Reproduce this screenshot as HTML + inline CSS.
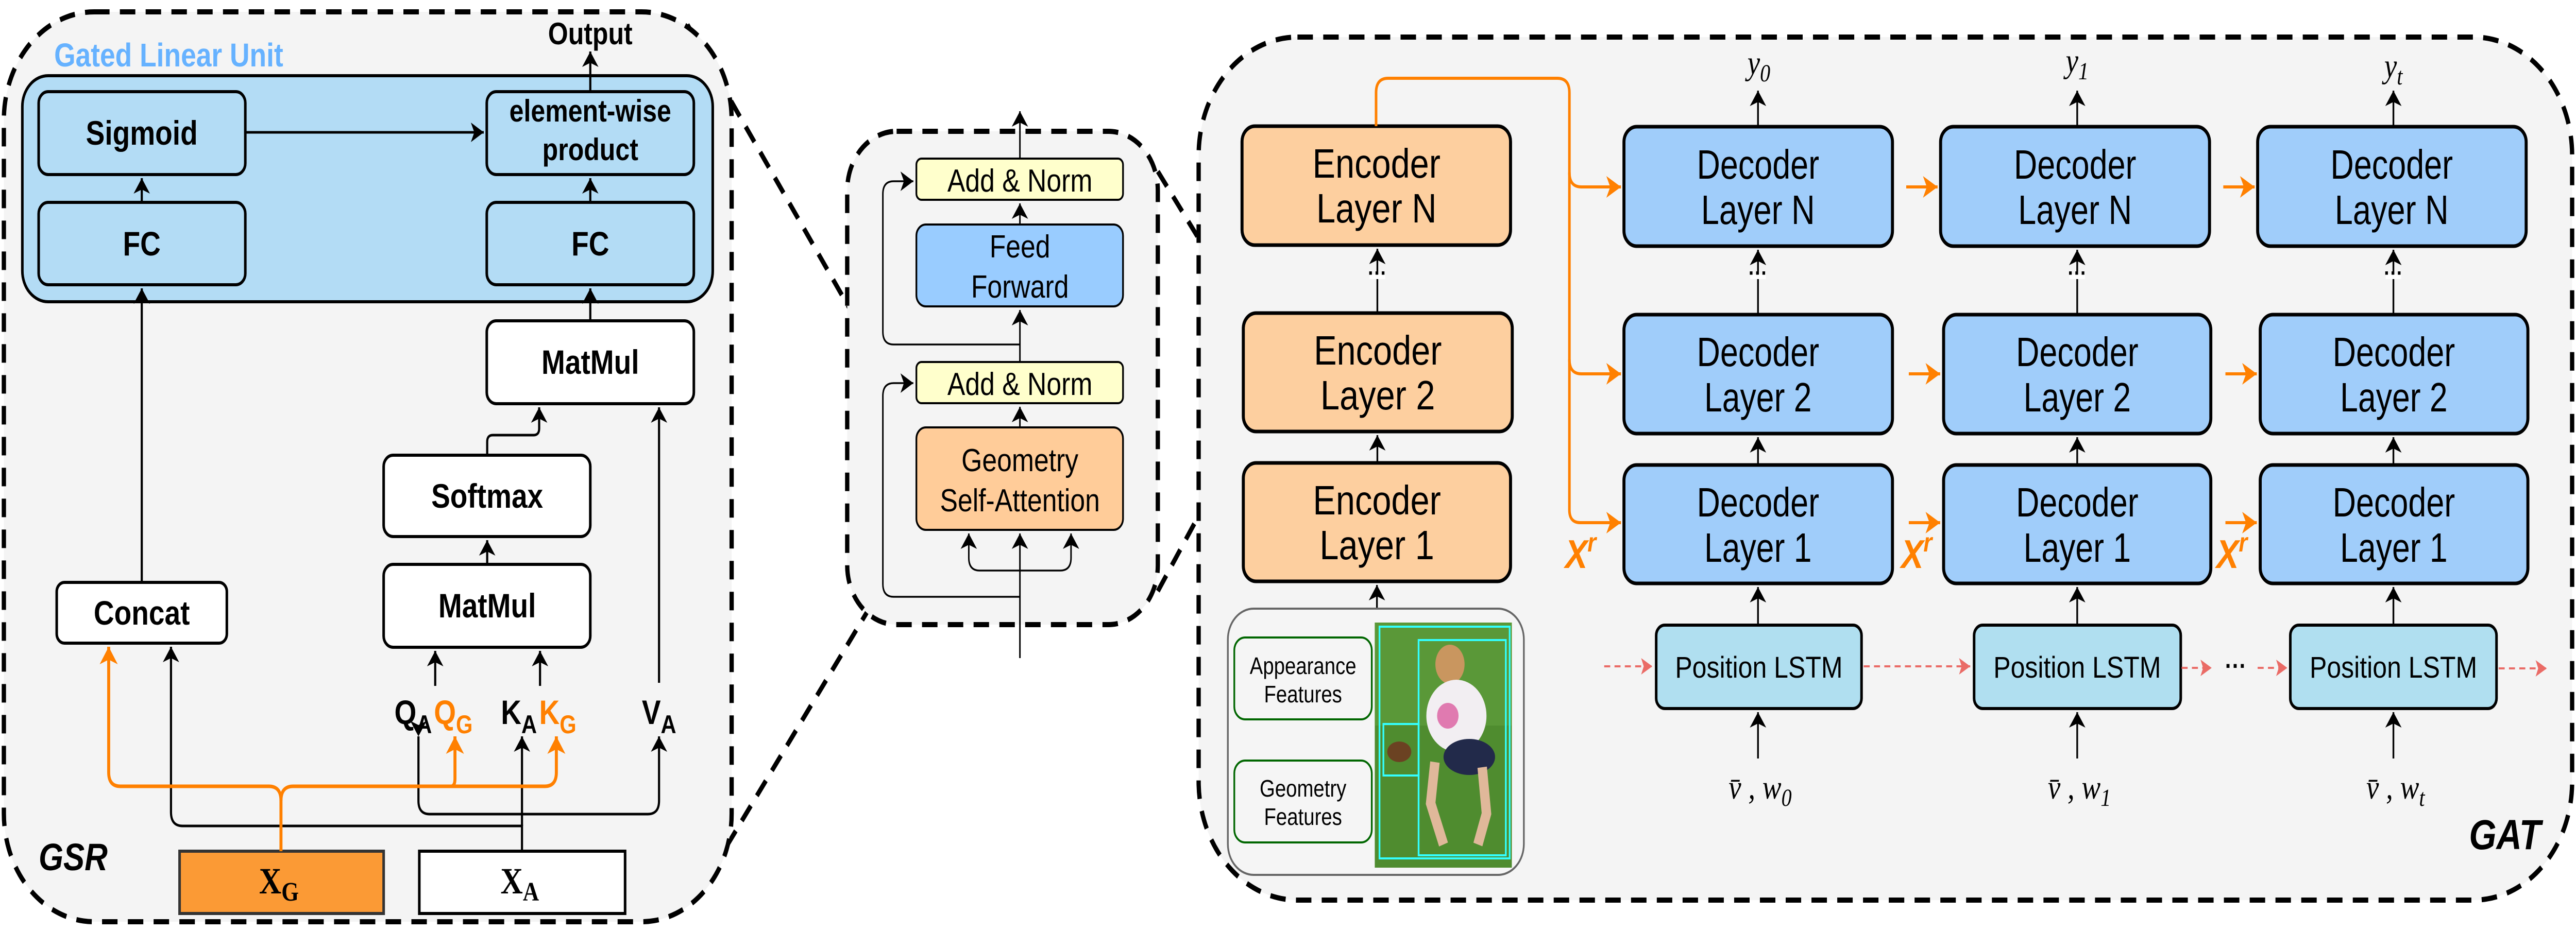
<!DOCTYPE html>
<html><head><meta charset="utf-8"><style>html,body{margin:0;padding:0;background:#fff;width:100%;height:100%;overflow:hidden}svg{display:block;width:100vw;height:100vh;position:absolute;left:0;top:0}</style></head>
<body>
<svg xmlns="http://www.w3.org/2000/svg" viewBox="0 0 5996 1808" preserveAspectRatio="none" font-family="'Liberation Sans', sans-serif">
<defs>
<marker id="ab" markerWidth="10" markerHeight="10" refX="8" refY="5" orient="auto" markerUnits="userSpaceOnUse" viewBox="0 0 10 10" style="overflow:visible"><path d="M-22,-14 L8,5 L-22,24 L-14,5 Z" fill="#000"/></marker>
<marker id="ao" markerWidth="10" markerHeight="10" refX="8" refY="5" orient="auto" markerUnits="userSpaceOnUse" viewBox="0 0 10 10" style="overflow:visible"><path d="M-26,-16 L8,5 L-26,26 L-17,5 Z" fill="#ff8000"/></marker>
<marker id="ar" markerWidth="10" markerHeight="10" refX="8" refY="5" orient="auto" markerUnits="userSpaceOnUse" viewBox="0 0 10 10" style="overflow:visible"><path d="M-18,-11 L8,5 L-18,21 L-12,5 Z" fill="#ea6b66"/></marker>
</defs>
<rect width="5996" height="1808" fill="#fff"/>

<g stroke="#000" stroke-width="10" stroke-dasharray="36,24" fill="none">
<line x1="1600" y1="48" x2="2133" y2="826"/>
<line x1="2133" y1="1029" x2="1690" y2="1645"/>
<line x1="2695" y1="333" x2="2896" y2="608"/>
<line x1="2695" y1="1148" x2="2896" y2="838"/>
</g>

<rect x="9" y="23" width="1694" height="1767" rx="210" fill="#f4f4f4" stroke="#000" stroke-width="10" stroke-dasharray="36,24"/>
<text x="126" y="129" font-size="64" font-weight="bold" fill="#66b2ff">Gated Linear Unit</text>
<rect x="52" y="147" width="1607" height="439" rx="60" fill="#b3dcf5" stroke="#000" stroke-width="6"/>
<g stroke="#000" stroke-width="6">
<rect x="90" y="178" width="481" height="161" rx="22" fill="#b3dcf5"/>
<rect x="90" y="393" width="481" height="160" rx="22" fill="#b3dcf5"/>
<rect x="1133" y="178" width="482" height="161" rx="22" fill="#b3dcf5"/>
<rect x="1133" y="393" width="482" height="160" rx="22" fill="#b3dcf5"/>
<rect x="1133" y="623" width="482" height="161" rx="22" fill="#fff"/>
<rect x="893" y="884" width="481" height="158" rx="22" fill="#fff"/>
<rect x="893" y="1096" width="481" height="161" rx="22" fill="#fff"/>
<rect x="132" y="1131" width="396" height="118" rx="18" fill="#fff"/>
<rect x="418" y="1653" width="475" height="121" fill="#fb9a35" stroke="#333"/>
<rect x="976" y="1653" width="479" height="121" fill="#fff"/>
</g>
<g font-size="66" font-weight="bold" text-anchor="middle" fill="#000">
<text x="330" y="281">Sigmoid</text>
<text x="330" y="496">FC</text>
<text x="1374" y="236" font-size="60">element-wise</text>
<text x="1374" y="311" font-size="60">product</text>
<text x="1374" y="496">FC</text>
<text x="1374" y="726">MatMul</text>
<text x="1134" y="986">Softmax</text>
<text x="1134" y="1199">MatMul</text>
<text x="330" y="1213">Concat</text>
<text x="1374" y="86" font-size="60">Output</text>
</g>
<g font-size="66" font-weight="bold" fill="#000">
<text x="918" y="1406">Q<tspan font-size="50" dy="18">A</tspan></text>
<text x="1010" y="1406" fill="#ff8000">Q<tspan font-size="50" dy="18">G</tspan></text>
<text x="1166" y="1406">K<tspan font-size="50" dy="18">A</tspan></text>
<text x="1255" y="1406" fill="#ff8000">K<tspan font-size="50" dy="18">G</tspan></text>
<text x="1494" y="1406">V<tspan font-size="50" dy="18">A</tspan></text>
</g>
<g font-family="'Liberation Serif', serif" font-weight="bold" font-size="72" fill="#000">
<text x="603" y="1735">X<tspan font-size="52" dy="14">G</tspan></text>
<text x="1165" y="1735">X<tspan font-size="52" dy="14">A</tspan></text>
</g>
<text x="90" y="1690" font-size="74" font-weight="bold" font-style="italic">GSR</text>

<g stroke="#000" stroke-width="5" fill="none">
<line x1="330" y1="1131" x2="330" y2="560" marker-end="url(#ab)"/>
<line x1="330" y1="393" x2="330" y2="346" marker-end="url(#ab)"/>
<line x1="571" y1="257" x2="1126" y2="257" marker-end="url(#ab)"/>
<line x1="1374" y1="178" x2="1374" y2="100" marker-end="url(#ab)"/>
<line x1="1374" y1="393" x2="1374" y2="346" marker-end="url(#ab)"/>
<line x1="1374" y1="623" x2="1374" y2="560" marker-end="url(#ab)"/>
<path d="M1134,884 V858 q0,-13 13,-13 H1242 q13,0 13,-13 V791" marker-end="url(#ab)"/>
<line x1="1134" y1="1096" x2="1134" y2="1049" marker-end="url(#ab)"/>
<line x1="1534" y1="1326" x2="1534" y2="791" marker-end="url(#ab)"/>
<line x1="1013" y1="1332" x2="1013" y2="1264" marker-end="url(#ab)"/>
<line x1="1257" y1="1332" x2="1257" y2="1264" marker-end="url(#ab)"/>
<path d="M1215,1653 V1604 H425 q-27,0 -27,-27 V1256" marker-end="url(#ab)"/>
<line x1="1215" y1="1604" x2="1215" y2="1430" marker-end="url(#ab)"/>
<path d="M974,1430 V1555 q0,26 26,26 H1508 q26,0 26,-26 V1430" marker-start="url(#ab)" marker-end="url(#ab)"/>
</g>
<g stroke="#ff8000" stroke-width="7" fill="none">
<path d="M654,1653 V1555 q0,-28 -28,-28 H280 q-27,0 -27,-27 V1256" marker-end="url(#ao)"/>
<path d="M654,1555 q0,-28 28,-28 H1268 q27,0 27,-27 V1430" marker-end="url(#ao)"/>
<path d="M1050,1527 q9,0 9,-15 V1430" marker-end="url(#ao)"/>
</g>

<rect x="1972" y="255" width="723" height="958" rx="115" fill="#f4f4f4" stroke="#000" stroke-width="10" stroke-dasharray="36,24"/>
<g stroke="#000" stroke-width="4">
<rect x="2133" y="308" width="481" height="80" rx="12" fill="#ffffcc"/>
<rect x="2133" y="436" width="481" height="159" rx="22" fill="#99ccff"/>
<rect x="2133" y="703" width="481" height="80" rx="12" fill="#ffffcc"/>
<rect x="2133" y="830" width="481" height="199" rx="22" fill="#ffcc99"/>
</g>
<g font-size="62" text-anchor="middle" fill="#000">
<text x="2374" y="372">Add &amp; Norm</text>
<text x="2374" y="500">Feed</text>
<text x="2374" y="578">Forward</text>
<text x="2374" y="767">Add &amp; Norm</text>
<text x="2374" y="915">Geometry</text>
<text x="2374" y="993">Self-Attention</text>
</g>
<g stroke="#000" stroke-width="3.5" fill="none">
<line x1="2374" y1="1278" x2="2374" y2="1036" marker-end="url(#ab)"/>
<path d="M2374,1108 H2280 q-25,0 -25,-25 V1036" marker-end="url(#ab)"/>
<path d="M2374,1108 H2468 q25,0 25,-25 V1036" marker-end="url(#ab)"/>
<path d="M2374,1159 H2080 q-25,0 -25,-25 V769 q0,-25 25,-25 H2126" marker-end="url(#ab)"/>
<line x1="2374" y1="830" x2="2374" y2="790" marker-end="url(#ab)"/>
<line x1="2374" y1="703" x2="2374" y2="602" marker-end="url(#ab)"/>
<path d="M2374,669 H2080 q-25,0 -25,-25 V377 q0,-25 25,-25 H2126" marker-end="url(#ab)"/>
<line x1="2374" y1="436" x2="2374" y2="395" marker-end="url(#ab)"/>
<line x1="2374" y1="308" x2="2374" y2="216" marker-end="url(#ab)"/>
</g>

<rect x="2790" y="72" width="3197" height="1676" rx="230" fill="#f4f4f4" stroke="#000" stroke-width="10" stroke-dasharray="36,24"/>
<text x="5747" y="1649" font-size="82" font-weight="bold" font-style="italic">GAT</text>

<g stroke="#000" stroke-width="7" fill="#fdcf9f">
<rect x="2891" y="245" width="625" height="231" rx="30"/>
<rect x="2894" y="608" width="626" height="230" rx="30"/>
<rect x="2894" y="899" width="622" height="230" rx="30"/>
</g>
<g font-size="80" text-anchor="middle" fill="#000">
<text x="3204" y="345">Encoder</text><text x="3204" y="432">Layer N</text>
<text x="3207" y="708">Encoder</text><text x="3207" y="795">Layer 2</text>
<text x="3205" y="999">Encoder</text><text x="3205" y="1086">Layer 1</text>
</g>
<g stroke="#000" stroke-width="4" fill="none">
<line x1="3206" y1="608" x2="3206" y2="483" marker-end="url(#ab)"/>
<line x1="3206" y1="899" x2="3206" y2="845" marker-end="url(#ab)"/>
<line x1="3205" y1="1182" x2="3205" y2="1136" marker-end="url(#ab)"/>
</g>
<rect x="3188" y="533" width="36" height="9" fill="#fff"/>
<text x="3206" y="545" font-size="44" font-weight="bold" text-anchor="middle">···</text>

<rect x="2858" y="1182" width="689" height="517" rx="60" fill="#f5f5f5" stroke="#666" stroke-width="4"/>
<rect x="2873" y="1238" width="320" height="159" rx="25" fill="#f5f5f5" stroke="#006600" stroke-width="4"/>
<rect x="2873" y="1477" width="320" height="159" rx="25" fill="#f5f5f5" stroke="#006600" stroke-width="4"/>
<g font-size="46" text-anchor="middle">
<text x="3033" y="1309">Appearance</text><text x="3033" y="1364">Features</text>
<text x="3033" y="1547">Geometry</text><text x="3033" y="1602">Features</text>
</g>
<rect x="3200" y="1209" width="319" height="476" fill="#4f8c2f"/>
<rect x="3200" y="1209" width="319" height="200" fill="#5a9838"/>
<ellipse cx="3375" cy="1290" rx="34" ry="38" fill="#c9965f"/>
<ellipse cx="3390" cy="1390" rx="70" ry="70" fill="#f2eef2"/>
<ellipse cx="3370" cy="1390" rx="25" ry="25" fill="#e07ab0"/>
<ellipse cx="3420" cy="1470" rx="60" ry="35" fill="#222a4a"/>
<path d="M3340,1480 L3330,1560 L3360,1640 M3450,1490 L3460,1580 L3440,1640" stroke="#e0b89a" stroke-width="22" fill="none"/>
<ellipse cx="3257" cy="1460" rx="28" ry="20" fill="#6b4222"/>
<g stroke="#33ffff" stroke-width="4" fill="none">
<rect x="3211" y="1217" width="303" height="450"/>
<rect x="3302" y="1243" width="203" height="418"/>
<rect x="3220" y="1406" width="82" height="100"/>
</g>

<g stroke="#ff8000" stroke-width="6" fill="none">
<path d="M3203,245 V180 q0,-28 28,-28 H3625 q28,0 28,28 V990 q0,25 25,25 H3773" marker-end="url(#ao)"/>
<path d="M3653,335 q0,28 28,28 H3773" marker-end="url(#ao)"/>
<path d="M3653,698 q0,28 28,28 H3773" marker-end="url(#ao)"/>
</g>

<g stroke="#000" stroke-width="7" fill="#a0cdfa">
<rect x="3780" y="246" width="625" height="232" rx="30"/>
<rect x="3780" y="611" width="625" height="231" rx="30"/>
<rect x="3780" y="903" width="625" height="230" rx="30"/>
<rect x="4517" y="246" width="626" height="232" rx="30"/>
<rect x="4524" y="611" width="622" height="231" rx="30"/>
<rect x="4524" y="903" width="622" height="230" rx="30"/>
<rect x="5255" y="246" width="625" height="232" rx="30"/>
<rect x="5261" y="611" width="623" height="231" rx="30"/>
<rect x="5261" y="903" width="623" height="230" rx="30"/>
</g>
<g stroke="#000" stroke-width="6" fill="#b0dff0">
<rect x="3855" y="1214" width="478" height="162" rx="20"/>
<rect x="4595" y="1214" width="481" height="162" rx="20"/>
<rect x="5331" y="1214" width="480" height="162" rx="20"/>
</g>
<g font-size="80" text-anchor="middle" fill="#000">
<text x="4092" y="347" textLength="285" lengthAdjust="spacingAndGlyphs">Decoder</text>
<text x="4092" y="435" textLength="265" lengthAdjust="spacingAndGlyphs">Layer N</text>
<text x="4092" y="711" textLength="285" lengthAdjust="spacingAndGlyphs">Decoder</text>
<text x="4092" y="799" textLength="250" lengthAdjust="spacingAndGlyphs">Layer 2</text>
<text x="4092" y="1003" textLength="285" lengthAdjust="spacingAndGlyphs">Decoder</text>
<text x="4092" y="1091" textLength="250" lengthAdjust="spacingAndGlyphs">Layer 1</text>
<text x="4830" y="347" textLength="285" lengthAdjust="spacingAndGlyphs">Decoder</text>
<text x="4830" y="435" textLength="265" lengthAdjust="spacingAndGlyphs">Layer N</text>
<text x="4835" y="711" textLength="285" lengthAdjust="spacingAndGlyphs">Decoder</text>
<text x="4835" y="799" textLength="250" lengthAdjust="spacingAndGlyphs">Layer 2</text>
<text x="4835" y="1003" textLength="285" lengthAdjust="spacingAndGlyphs">Decoder</text>
<text x="4835" y="1091" textLength="250" lengthAdjust="spacingAndGlyphs">Layer 1</text>
<text x="5567" y="347" textLength="285" lengthAdjust="spacingAndGlyphs">Decoder</text>
<text x="5567" y="435" textLength="265" lengthAdjust="spacingAndGlyphs">Layer N</text>
<text x="5572" y="711" textLength="285" lengthAdjust="spacingAndGlyphs">Decoder</text>
<text x="5572" y="799" textLength="250" lengthAdjust="spacingAndGlyphs">Layer 2</text>
<text x="5572" y="1003" textLength="285" lengthAdjust="spacingAndGlyphs">Decoder</text>
<text x="5572" y="1091" textLength="250" lengthAdjust="spacingAndGlyphs">Layer 1</text>
</g>
<g font-size="58" text-anchor="middle" fill="#000">
<text x="4094" y="1316" textLength="390" lengthAdjust="spacingAndGlyphs">Position LSTM</text>
<text x="4835" y="1316" textLength="390" lengthAdjust="spacingAndGlyphs">Position LSTM</text>
<text x="5571" y="1316" textLength="390" lengthAdjust="spacingAndGlyphs">Position LSTM</text>
</g>
<g stroke="#000" stroke-width="4" fill="none">
<line x1="4092" y1="246" x2="4092" y2="176" marker-end="url(#ab)"/>
<line x1="4835" y1="246" x2="4835" y2="176" marker-end="url(#ab)"/>
<line x1="5571" y1="246" x2="5571" y2="176" marker-end="url(#ab)"/>
<line x1="4092" y1="611" x2="4092" y2="485" marker-end="url(#ab)"/>
<line x1="4835" y1="611" x2="4835" y2="485" marker-end="url(#ab)"/>
<line x1="5571" y1="611" x2="5571" y2="485" marker-end="url(#ab)"/>
<line x1="4092" y1="903" x2="4092" y2="849" marker-end="url(#ab)"/>
<line x1="4835" y1="903" x2="4835" y2="849" marker-end="url(#ab)"/>
<line x1="5571" y1="903" x2="5571" y2="849" marker-end="url(#ab)"/>
<line x1="4092" y1="1214" x2="4092" y2="1140" marker-end="url(#ab)"/>
<line x1="4835" y1="1214" x2="4835" y2="1140" marker-end="url(#ab)"/>
<line x1="5571" y1="1214" x2="5571" y2="1140" marker-end="url(#ab)"/>
<line x1="4092" y1="1473" x2="4092" y2="1383" marker-end="url(#ab)"/>
<line x1="4835" y1="1473" x2="4835" y2="1383" marker-end="url(#ab)"/>
<line x1="5571" y1="1473" x2="5571" y2="1383" marker-end="url(#ab)"/>
</g>
<g fill="#fff"><rect x="4074" y="533" width="36" height="9"/><rect x="4817" y="533" width="36" height="9"/><rect x="5553" y="533" width="36" height="9"/></g>
<g font-size="44" font-weight="bold" text-anchor="middle">
<text x="4092" y="545">···</text><text x="4835" y="545">···</text><text x="5571" y="545">···</text>
</g>
<g stroke="#ff8000" stroke-width="6">
<line x1="4437" y1="363" x2="4510" y2="363" marker-end="url(#ao)"/>
<line x1="4443" y1="726" x2="4516" y2="726" marker-end="url(#ao)"/>
<line x1="4443" y1="1015" x2="4516" y2="1015" marker-end="url(#ao)"/>
<line x1="5175" y1="363" x2="5248" y2="363" marker-end="url(#ao)"/>
<line x1="5180" y1="726" x2="5253" y2="726" marker-end="url(#ao)"/>
<line x1="5180" y1="1015" x2="5253" y2="1015" marker-end="url(#ao)"/>
</g>
<g font-size="78" font-weight="bold" font-style="italic" fill="#ff8000">
<text x="3643" y="1103">X<tspan font-size="52" dy="-32">r</tspan></text>
<text x="4425" y="1103">X<tspan font-size="52" dy="-32">r</tspan></text>
<text x="5159" y="1103">X<tspan font-size="52" dy="-32">r</tspan></text>
</g>
<g stroke="#ea6b66" stroke-width="4" stroke-dasharray="14,10">
<line x1="3734" y1="1294" x2="3846" y2="1294" marker-end="url(#ar)"/>
<line x1="4338" y1="1294" x2="4586" y2="1294" marker-end="url(#ar)"/>
<line x1="5078" y1="1297" x2="5148" y2="1297" marker-end="url(#ar)"/>
<line x1="5255" y1="1297" x2="5324" y2="1297" marker-end="url(#ar)"/>
<line x1="5816" y1="1298" x2="5928" y2="1298" marker-end="url(#ar)"/>
</g>
<text x="5204" y="1310" font-size="50" font-weight="bold" text-anchor="middle">···</text>
<g font-family="'Liberation Serif', serif" font-style="italic" font-size="66" text-anchor="middle" fill="#000">
<text x="4094" y="144">y<tspan font-size="48" dy="14">0</tspan></text>
<text x="4835" y="140">y<tspan font-size="48" dy="14">1</tspan></text>
<text x="5571" y="150">y<tspan font-size="48" dy="14">t</tspan></text>
<text x="4097" y="1551">v̄ , w<tspan font-size="48" dy="14">0</tspan></text>
<text x="4840" y="1551">v̄ , w<tspan font-size="48" dy="14">1</tspan></text>
<text x="5576" y="1551">v̄ , w<tspan font-size="48" dy="14">t</tspan></text>
</g>
</svg>
</body></html>
